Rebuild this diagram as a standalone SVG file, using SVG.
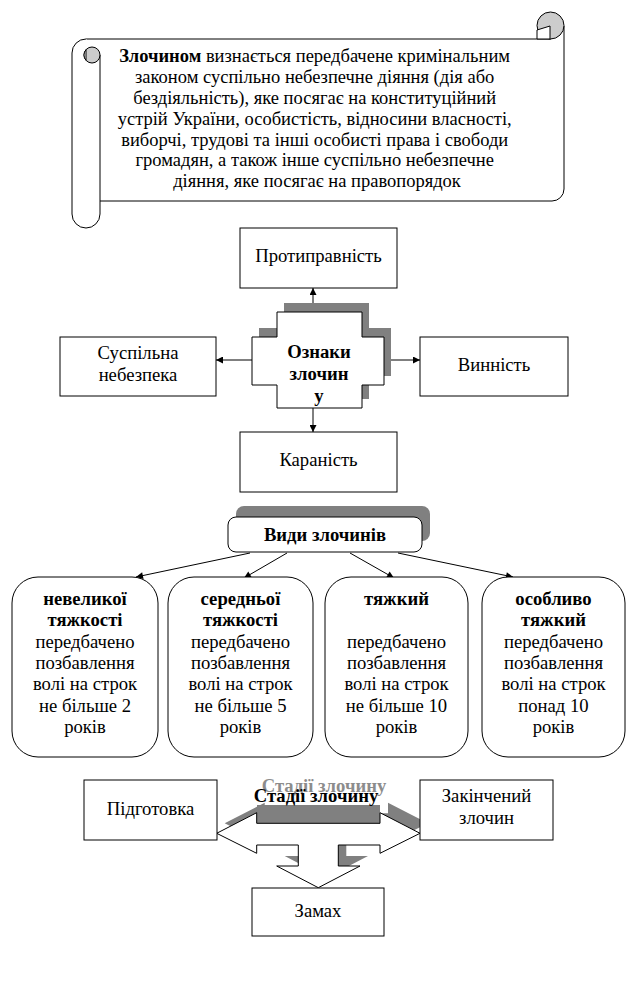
<svg xmlns="http://www.w3.org/2000/svg" width="637" height="997" viewBox="0 0 637 997">
<defs>
<style>
.t{font-family:"Liberation Serif","Times New Roman",serif;font-size:18.67px;fill:#000}
.s{font-size:18.5px}
.b{font-weight:bold}
.m{text-anchor:middle}
.box{fill:#fff;stroke:#000;stroke-width:1}
.sh{fill:#808080}
.ln{stroke:#000;stroke-width:1;fill:none}
.curl{fill:#cccccc;stroke:#000;stroke-width:1}
</style>
<marker id="ah" viewBox="0 0 10 10" refX="10" refY="5" markerWidth="8" markerHeight="7" markerUnits="userSpaceOnUse" orient="auto"><path d="M0,0 L10,5 L0,10 Z" fill="#000"/></marker>
</defs>
<rect width="637" height="997" fill="#fff"/>

<g id="scroll">
  <path class="box" d="M86,39 H551 L564,26 V189 A12,12 0 0 1 552,201 H100"/>
  <path class="box" d="M86,39 A14,14 0 0 0 72,53 V214 A14,14 0 0 0 100,214 V55"/>
  <circle class="curl" cx="92" cy="55" r="8"/>
  <path d="M86,49.7 A8,8 0 0 0 86,60.3 Z" fill="#fff" stroke="#000" stroke-width="1"/>
  <circle class="curl" cx="550.5" cy="25.5" r="13.5"/>
  <path d="M537,30 L550,26 V39 H537 Z" fill="#fff" stroke="#000" stroke-width="1"/>
  <text class="t s m" x="317">
    <tspan x="317" y="62.3"><tspan class="b">Злочином</tspan> визнається передбачене кримінальним</tspan>
    <tspan x="317" y="83.1">законом суспільно небезпечне діяння (дія або</tspan>
    <tspan x="317" y="103.9">бездіяльність), яке посягає на конституційний</tspan>
    <tspan x="317" y="124.7">устрій України, особистість, відносини власності,</tspan>
    <tspan x="317" y="145.5">виборчі, трудові та інші особисті права і свободи</tspan>
    <tspan x="317" y="166.3">громадян, а також інше суспільно небезпечне</tspan>
    <tspan x="317" y="187.1">діяння, яке посягає на правопорядок</tspan>
  </text>
</g>

<g id="connectors">
  <line class="ln" x1="313" y1="312" x2="313" y2="288" marker-end="url(#ah)"/>
  <line class="ln" x1="252" y1="360" x2="216" y2="360" marker-end="url(#ah)"/>
  <line class="ln" x1="384" y1="360" x2="420" y2="360" marker-end="url(#ah)"/>
  <line class="ln" x1="313" y1="408" x2="313" y2="432" marker-end="url(#ah)"/>
  <line class="ln" x1="250" y1="553" x2="136" y2="577" marker-end="url(#ah)"/>
  <line class="ln" x1="287" y1="553" x2="244" y2="578" marker-end="url(#ah)"/>
  <line class="ln" x1="350" y1="553" x2="394" y2="578" marker-end="url(#ah)"/>
  <line class="ln" x1="398" y1="553" x2="513" y2="577" marker-end="url(#ah)"/>
</g>

<g id="protypravnist">
  <rect class="box" x="240" y="228" width="157" height="60"/>
  <text class="t m" x="318.5" y="262">Протиправність</text>
</g>

<g id="oznaky">
  <path class="sh" d="M284,303 H369 V328 H391 V376 H369 V399 H284 V376 H259 V328 H284 Z"/>
  <path class="box" d="M277,312 H362 V337 H384 V385 H362 V408 H277 V385 H252 V337 H277 Z"/>
  <text class="t b m" x="319"><tspan x="319" y="358">Ознаки</tspan><tspan x="319" y="380">злочин</tspan><tspan x="319" y="402">у</tspan></text>
</g>

<g id="suspilna">
  <rect class="box" x="60" y="337" width="156" height="59"/>
  <text class="t m" x="138"><tspan x="138" y="359">Суспільна</tspan><tspan x="138" y="381">небезпека</tspan></text>
</g>

<g id="vynnist">
  <rect class="box" x="420" y="337" width="148" height="59"/>
  <text class="t m" x="494" y="371">Винність</text>
</g>

<g id="karanist">
  <rect class="box" x="240" y="432" width="157" height="60"/>
  <text class="t m" x="318.5" y="466">Караність</text>
</g>

<g id="vydy">
  <rect class="sh" x="236" y="506" width="194" height="35" rx="8"/>
  <rect class="box" x="228" y="517" width="194" height="35" rx="8"/>
  <text class="t b m" x="325" y="541">Види злочинів</text>
</g>

<g id="nevelykoi">
  <rect class="box" x="12" y="577" width="146" height="180" rx="26"/>
  <text class="t m" x="85"><tspan class="b" x="85" y="605">невеликої</tspan><tspan class="b" x="85" y="626.3">тяжкості</tspan><tspan x="85" y="647.6">передбачено</tspan><tspan x="85" y="669">позбавлення</tspan><tspan x="85" y="690.2">волі на строк</tspan><tspan x="85" y="711.5">не більше 2</tspan><tspan x="85" y="732.8">років</tspan></text>
</g>

<g id="serednoi">
  <rect class="box" x="168" y="577" width="145" height="180" rx="26"/>
  <text class="t m" x="240.5"><tspan class="b" x="240.5" y="605">середньої</tspan><tspan class="b" x="240.5" y="626.3">тяжкості</tspan><tspan x="240.5" y="647.6">передбачено</tspan><tspan x="240.5" y="669">позбавлення</tspan><tspan x="240.5" y="690.2">волі на строк</tspan><tspan x="240.5" y="711.5">не більше 5</tspan><tspan x="240.5" y="732.8">років</tspan></text>
</g>

<g id="tyazhkyi">
  <rect class="box" x="325" y="577" width="143" height="180" rx="26"/>
  <text class="t m" x="396.5"><tspan class="b" x="396.5" y="605">тяжкий</tspan><tspan x="396.5" y="647.6">передбачено</tspan><tspan x="396.5" y="669">позбавлення</tspan><tspan x="396.5" y="690.2">волі на строк</tspan><tspan x="396.5" y="711.5">не більше 10</tspan><tspan x="396.5" y="732.8">років</tspan></text>
</g>

<g id="osoblyvo">
  <rect class="box" x="482" y="577" width="143" height="180" rx="26"/>
  <text class="t m" x="553.5"><tspan class="b" x="553.5" y="605">особливо</tspan><tspan class="b" x="553.5" y="626.3">тяжкий</tspan><tspan x="553.5" y="647.6">передбачено</tspan><tspan x="553.5" y="669">позбавлення</tspan><tspan x="553.5" y="690.2">волі на строк</tspan><tspan x="553.5" y="711.5">понад 10</tspan><tspan x="553.5" y="732.8">років</tspan></text>
</g>

<g id="stadii">
  <path class="sh" transform="translate(8,-10)" d="M216.7,833.3 L256.7,812.7 V823.3 H380 V812.7 L420,833.3 L380,853.3 V845 H338.3 V866 H360 L318.3,887.7 L276.7,866 H298.3 V845 H256.7 V853.3 Z"/>
  <rect class="sh" x="257" y="805" width="123" height="19"/>
  <path class="box" d="M216.7,833.3 L256.7,812.7 V823.3 H380 V812.7 L420,833.3 L380,853.3 V845 H338.3 V866 H360 L318.3,887.7 L276.7,866 H298.3 V845 H256.7 V853.3 Z"/>
  <text class="t b m" x="324" y="792" style="fill:#8c8c8c">Стадії злочину</text>
  <text class="t b m" x="316" y="802">Стадії злочину</text>
</g>

<g id="pidgotovka">
  <rect class="box" x="84" y="780" width="133" height="60"/>
  <text class="t m" x="150.5" y="815">Підготовка</text>
</g>

<g id="zakincheny">
  <rect class="box" x="420" y="780" width="133" height="60"/>
  <text class="t m" x="486.5"><tspan x="486.5" y="802">Закінчений</tspan><tspan x="486.5" y="824">злочин</tspan></text>
</g>

<g id="zamakh">
  <rect class="box" x="252" y="888" width="132" height="48"/>
  <text class="t m" x="318" y="917">Замах</text>
</g>
</svg>
